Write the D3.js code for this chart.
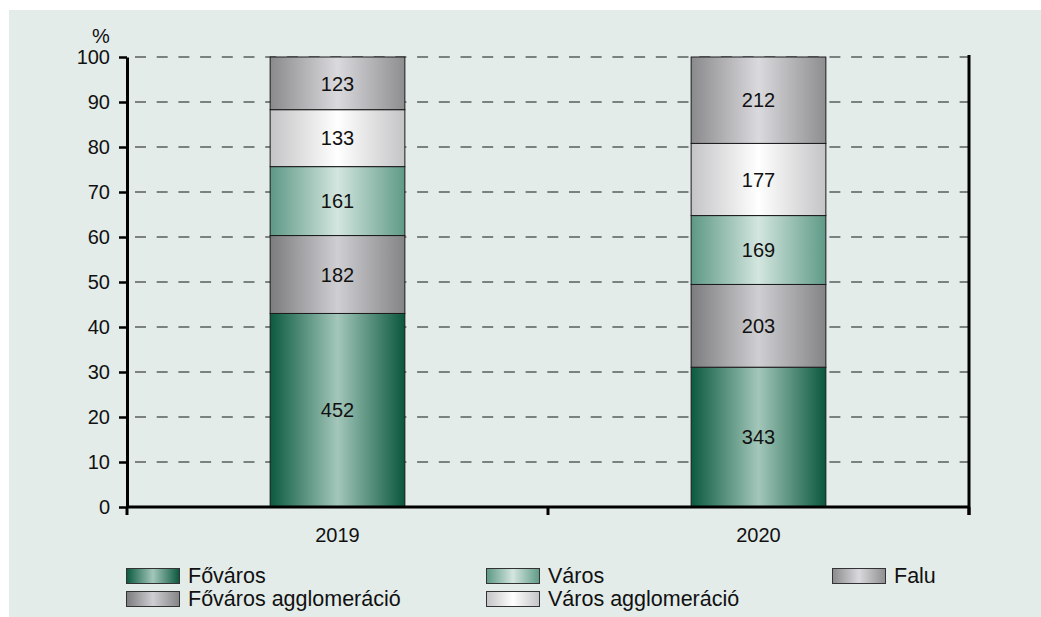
<!DOCTYPE html>
<html>
<head>
<meta charset="utf-8">
<script src="https://cdn.jsdelivr.net/npm/d3@7"></script>
<style>
  body { margin: 0; background: #fff; }
  svg { display: block; font-family: 'Liberation Sans', Arial, sans-serif; }
</style>
</head>
<body>
<div id="chart"></div>
<script>
  // counts per settlement type, stacked as share of the yearly total
  const years = ['2019', '2020'];
  const seriesNames = ['Főváros', 'Főváros agglomeráció', 'Város', 'Város agglomeráció', 'Falu'];
  const fovaros = [452, 343];
  const fovarosAggl = [182, 203];
  const varos = [161, 169];
  const varosAggl = [133, 177];
  const falu = [123, 212];
  const yTicks = [0, 10, 20, 30, 40, 50, 60, 70, 80, 90, 100];
  const legendOrder = ['Főváros', 'Város', 'Falu', 'Főváros agglomeráció', 'Város agglomeráció'];

  const width = 1041;
  const height = 617;
  const margin = { top: 57, right: 72, bottom: 110, left: 127 };

  // edge / centre colours of the cylinder-like gradients
  const fills = {
    'Főváros': ['#0b5a3f', '#a3c7ba', '#0a573d'],
    'Főváros agglomeráció': ['#7c7c7e', '#cfcfd3', '#848486'],
    'Város': ['#5d9885', '#d3e6df', '#5f9a87'],
    'Város agglomeráció': ['#c4c4c6', '#ffffff', '#c4c4c6'],
    'Falu': ['#8a8a8c', '#dadade', '#8e8e90'],
  };

  const raw = [fovaros, fovarosAggl, varos, varosAggl, falu];
  const rows = years.map((yr, i) => {
    let total = d3.sum(raw, (s) => s[i]);
    let row = { year: yr };
    seriesNames.forEach((name, k) => {
      row[name] = raw[k][i] / total * 100;
      row[name + '_n'] = raw[k][i];
    });
    return row;
  });

  const stack = d3.stack().keys(seriesNames);
  const layers = stack(rows);

  const svg = d3.select('#chart').append('svg')
    .attr('width', width)
    .attr('height', height);

  svg.append('rect')
    .attr('x', 9).attr('y', 10)
    .attr('width', width - 9).attr('height', height - 10)
    .attr('fill', '#e3ece9');

  const defs = svg.append('defs');
  seriesNames.forEach((name, k) => {
    let g = defs.append('linearGradient')
      .attr('id', 'grad' + k)
      .attr('x1', '0%').attr('x2', '100%')
      .attr('y1', '0%').attr('y2', '0%');
    g.append('stop').attr('offset', '0%').attr('stop-color', fills[name][0]);
    g.append('stop').attr('offset', '50%').attr('stop-color', fills[name][1]);
    g.append('stop').attr('offset', '100%').attr('stop-color', fills[name][2]);
  });

  const x = d3.scaleBand()
    .domain(years)
    .range([margin.left, width - margin.right]);
  const barW = x.bandwidth() * 0.32;

  const y = d3.scaleLinear()
    .domain([0, 100])
    .range([height - margin.bottom, margin.top]);

  // dashed grid
  svg.append('g')
    .selectAll('line')
    .data(yTicks.filter((t) => t > 0))
    .enter()
    .append('line')
    .attr('x1', margin.left + 8)
    .attr('x2', width - margin.right)
    .attr('y1', (d) => y(d))
    .attr('y2', (d) => y(d))
    .attr('stroke', '#5a5e5d')
    .attr('stroke-width', 1.7)
    .attr('stroke-dasharray', '11,10.7');

  // bars
  const layerG = svg.append('g')
    .selectAll('g')
    .data(layers)
    .enter()
    .append('g')
    .attr('fill', (d, k) => `url(#grad${k})`);

  layerG.selectAll('rect')
    .data((d) => d)
    .enter()
    .append('rect')
    .attr('x', (d) => x(d.data.year) + x.bandwidth() / 2 - barW / 2)
    .attr('y', (d) => y(d[1]))
    .attr('width', barW)
    .attr('height', (d) => y(d[0]) - y(d[1]))
    .attr('stroke', '#1a1a1a')
    .attr('stroke-width', 1);

  layerG.each(function (layer) {
    d3.select(this).selectAll('text')
      .data(layer)
      .enter()
      .append('text')
      .attr('x', (d) => x(d.data.year) + x.bandwidth() / 2)
      .attr('y', (d) => (y(d[0]) + y(d[1])) / 2)
      .attr('dy', '0.36em')
      .attr('text-anchor', 'middle')
      .attr('font-size', 20)
      .attr('fill', '#111')
      .text((d) => d.data[layer.key + '_n']);
  });

  // left axis
  const yAxis = d3.axisLeft(y)
    .tickValues(yTicks)
    .tickSize(8)
    .tickPadding(9)
    .tickSizeOuter(0);
  const gY = svg.append('g')
    .attr('transform', `translate(${margin.left},0)`)
    .call(yAxis);
  gY.select('.domain').attr('stroke', '#000').attr('stroke-width', 3);
  gY.selectAll('.tick line').attr('stroke', '#000').attr('stroke-width', 2.5);
  gY.selectAll('.tick text')
    .attr('font-size', 20)
    .attr('font-family', "'Liberation Sans', Arial, sans-serif")
    .attr('fill', '#111');

  svg.append('text')
    .attr('x', 101)
    .attr('y', 43)
    .attr('text-anchor', 'middle')
    .attr('font-size', 20)
    .attr('fill', '#111')
    .text('%');

  // right frame line
  svg.append('line')
    .attr('x1', width - margin.right).attr('x2', width - margin.right)
    .attr('y1', y(100) - 2).attr('y2', y(0) + 8)
    .attr('stroke', '#000').attr('stroke-width', 3);

  // baseline and category boundary ticks
  svg.append('line')
    .attr('x1', margin.left).attr('x2', width - margin.right)
    .attr('y1', y(0)).attr('y2', y(0))
    .attr('stroke', '#000').attr('stroke-width', 3);
  const bounds = years.map((d) => x(d)).concat([x(years[years.length - 1]) + x.bandwidth()]);
  svg.append('g')
    .selectAll('line')
    .data(bounds)
    .enter()
    .append('line')
    .attr('x1', (d) => d).attr('x2', (d) => d)
    .attr('y1', y(0)).attr('y2', y(0) + 8)
    .attr('stroke', '#000').attr('stroke-width', 3);

  svg.append('g')
    .selectAll('text')
    .data(years)
    .enter()
    .append('text')
    .attr('x', (d) => x(d) + x.bandwidth() / 2)
    .attr('y', 542)
    .attr('text-anchor', 'middle')
    .attr('font-size', 20)
    .attr('fill', '#111')
    .text((d) => d);

  // legend, three columns
  const colX = [126, 486, 832];
  const rowY = [568, 591];
  const legend = svg.append('g')
    .selectAll('g')
    .data(legendOrder)
    .enter()
    .append('g')
    .attr('transform', (d, i) => `translate(${colX[i % 3]},${rowY[Math.floor(i / 3)]})`);
  legend.append('rect')
    .attr('x', 0.5).attr('y', 0.5)
    .attr('width', 53).attr('height', 15)
    .attr('fill', (d) => `url(#grad${seriesNames.indexOf(d)})`)
    .attr('stroke', '#333')
    .attr('stroke-width', 1);
  legend.append('text')
    .attr('x', 62)
    .attr('y', 15)
    .attr('font-size', 21.5)
    .attr('fill', '#111')
    .text((d) => d);
</script>
</body>
</html>
